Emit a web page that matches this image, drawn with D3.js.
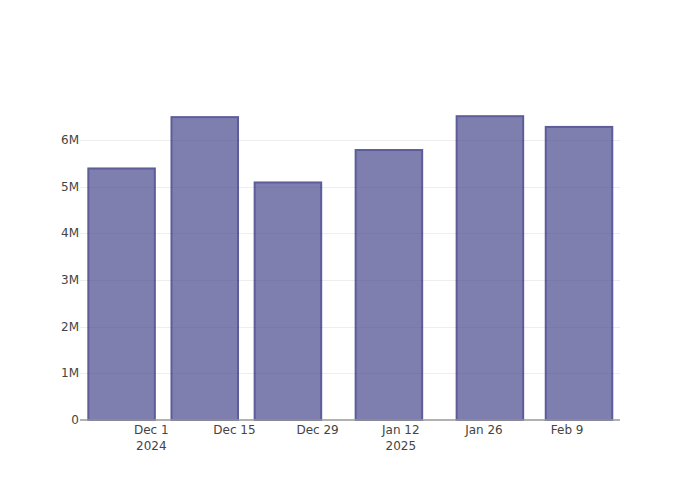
<!DOCTYPE html>
<html>
<head>
<meta charset="utf-8">
<script src="https://cdn.jsdelivr.net/npm/d3@7"></script>
<style>
  html, body { margin: 0; padding: 0; background: #fff; }
  svg { display: block; font-family: "DejaVu Sans", Verdana, sans-serif; }
</style>
</head>
<body>
<svg id="chart" width="700" height="500"></svg>
<script>
// Data
const barDates = ["2024-11-26", "2024-12-10", "2024-12-24", "2025-01-10", "2025-01-27", "2025-02-11"];
const barValues = [5390000, 6490000, 5090000, 5785000, 6510000, 6280000];
const xTickDates = ["2024-12-01", "2024-12-15", "2024-12-29", "2025-01-12", "2025-01-26", "2025-02-09"];
const xTickLabels = ["Dec 1", "Dec 15", "Dec 29", "Jan 12", "Jan 26", "Feb 9"];
const xTickYears = ["2024", "", "", "2025", "", ""];
const yTickValues = [0, 1000000, 2000000, 3000000, 4000000, 5000000, 6000000];
const yTickLabels = ["0", "1M", "2M", "3M", "4M", "5M", "6M"];

const parse = d3.utcParse("%Y-%m-%d");
const DAY = 86400000;

const svg = d3.select("#chart");
const pLeft = 80, pRight = 620, pTop = 100, pBottom = 420;

const x = d3.scaleUtc()
  .domain([parse("2024-11-19"), new Date(parse("2025-02-17").getTime() + 0.9 * DAY)])
  .range([pLeft, pRight]);
const y = d3.scaleLinear().domain([0, 6857000]).range([pBottom, pTop]);

const barWidthMs = 0.8 * 14 * DAY;

// gridlines
svg.append("g")
  .selectAll("line")
  .data(yTickValues.slice(1))
  .join("line")
  .attr("x1", pLeft).attr("x2", pRight)
  .attr("y1", d => Math.round(y(d)) + 0.5).attr("y2", d => Math.round(y(d)) + 0.5)
  .attr("stroke", "#eeeeee").attr("stroke-width", 1);

// bars
svg.append("g")
  .attr("opacity", 0.7)
  .selectAll("rect")
  .data(barDates.map((d, i) => ({ date: parse(d), value: barValues[i] })))
  .join("rect")
  .attr("x", d => x(new Date(d.date.getTime() - barWidthMs / 2)))
  .attr("width", d => x(new Date(d.date.getTime() + barWidthMs / 2)) - x(new Date(d.date.getTime() - barWidthMs / 2)))
  .attr("y", d => y(d.value))
  .attr("height", d => y(0) - y(d.value))
  .attr("fill", "rgb(72,72,142)")
  .attr("stroke", "rgb(25,25,112)")
  .attr("stroke-width", 2);

// x axis line
svg.append("line")
  .attr("x1", pLeft).attr("x2", pRight)
  .attr("y1", pBottom).attr("y2", pBottom)
  .attr("stroke", "#999").attr("stroke-width", 1.5);

// x tick labels
const xl = svg.append("g").attr("font-size", 12).attr("fill", "#444").attr("text-anchor", "middle");
xTickDates.forEach((d, i) => {
  const t = xl.append("text").attr("x", x(parse(d))).attr("y", 434);
  t.append("tspan").attr("x", x(parse(d))).text(xTickLabels[i]);
  if (xTickYears[i]) t.append("tspan").attr("x", x(parse(d))).attr("dy", 16).text(xTickYears[i]);
});

// y tick labels
svg.append("g").attr("font-size", 12).attr("fill", "#444").attr("text-anchor", "end")
  .selectAll("text")
  .data(yTickValues)
  .join("text")
  .attr("x", 79)
  .attr("y", d => y(d) + 4)
  .text((d, i) => yTickLabels[i]);
</script>
</body>
</html>
